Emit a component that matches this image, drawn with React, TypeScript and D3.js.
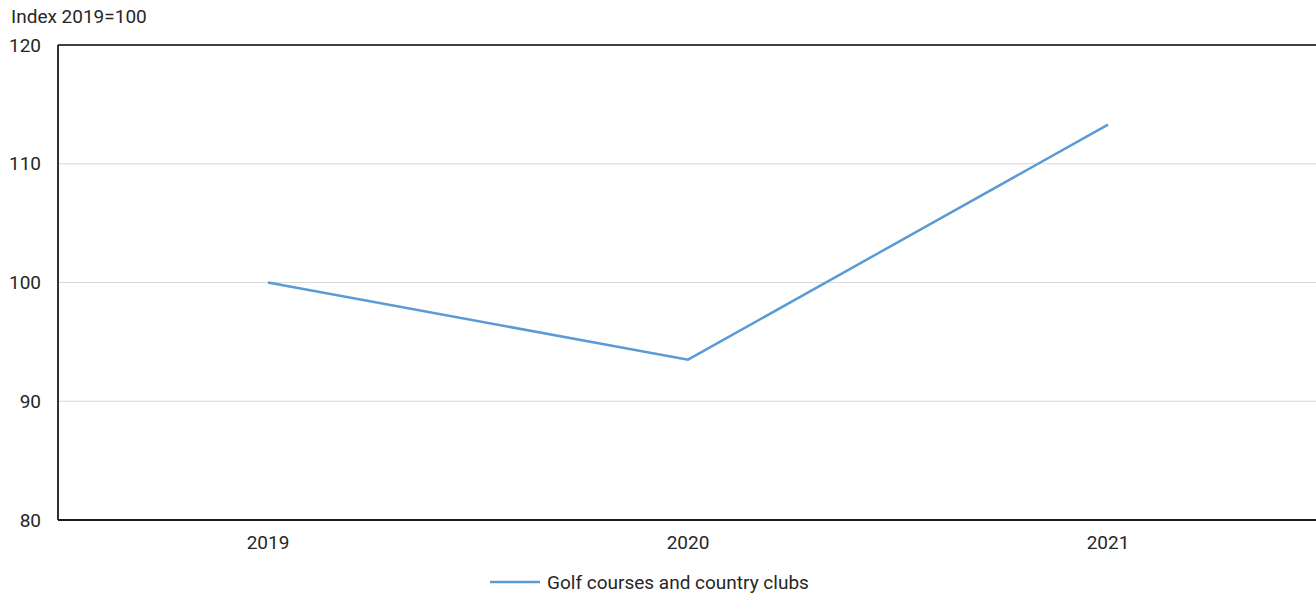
import React from "react";
import * as d3 from "d3";

const years = ["2019", "2020", "2021"];
const golfIndex = [100, 93.5, 113.3];
const yTicks = [80, 90, 100, 110, 120];
const seriesName = "Golf courses and country clubs";
const unitLabel = "Index 2019=100";

const W = 1316;
const H = 594;
const M = { left: 58, right: W + 2, top: 45, bottom: 520 };
const FONT = "Roboto, 'Noto Sans', sans-serif";

export default function App() {
  const x = d3.scaleBand<string>().domain(years).range([M.left, M.right]);
  const y = d3.scaleLinear().domain([80, 120]).range([M.bottom, M.top]);
  const line = d3
    .line<number>()
    .x((_, i) => (x(years[i]) as number) + x.bandwidth() / 2)
    .y((d) => y(d));

  return (
    <svg
      width={W}
      height={H}
      style={{ position: "absolute", left: 0, top: 0, background: "#fff" }}
      fontFamily={FONT}
    >
      {yTicks
        .filter((t) => t !== 80 && t !== 120)
        .map((t) => (
          <line key={t} x1={M.left} x2={W} y1={y(t)} y2={y(t)} stroke="#d9d9d9" strokeWidth={1} />
        ))}
      <line x1={M.left} x2={W} y1={M.top} y2={M.top} stroke="#404040" strokeWidth={1.8} />
      <line x1={M.left} x2={W} y1={M.bottom} y2={M.bottom} stroke="#1a1a1a" strokeWidth={1.8} />
      <line x1={M.left} x2={M.left} y1={M.top} y2={M.bottom} stroke="#1a1a1a" strokeWidth={1.8} />
      {yTicks.map((t) => (
        <text key={t} x={41} y={y(t)} dy="0.35em" textAnchor="end" fontSize={19} fill="#262626">
          {t}
        </text>
      ))}
      {years.map((yr) => (
        <text
          key={yr}
          x={(x(yr) as number) + x.bandwidth() / 2}
          y={542}
          dy="0.35em"
          textAnchor="middle"
          fontSize={19}
          fill="#262626"
        >
          {yr}
        </text>
      ))}
      <text x={11} y={16} dy="0.35em" fontSize={19} fill="#262626">
        {unitLabel}
      </text>
      <path d={line(golfIndex) || ""} fill="none" stroke="#5b9bd5" strokeWidth={2.5} />
      <line x1={490} x2={540} y1={582} y2={582} stroke="#5b9bd5" strokeWidth={2.5} />
      <text x={547} y={582} dy="0.35em" fontSize={19} fill="#262626">
        {seriesName}
      </text>
    </svg>
  );
}
